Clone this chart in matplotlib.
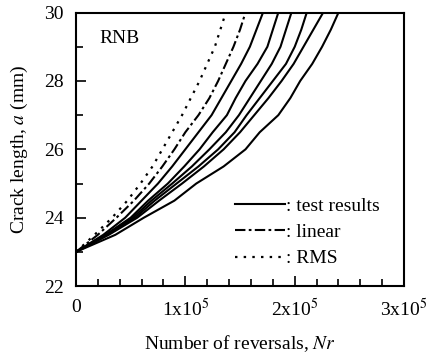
import matplotlib
matplotlib.use('Agg')
import matplotlib.pyplot as plt
from matplotlib.ticker import MultipleLocator, FixedLocator, FixedFormatter

plt.rcParams['font.family'] = ['Liberation Serif', 'DejaVu Serif']
plt.rcParams['mathtext.fontset'] = 'stix'

# crack length levels (mm) and reversals (x1e5)
crack_a = [23, 23.5, 24, 24.5, 25, 25.5, 26, 26.5, 27, 27.5, 28, 28.5, 29, 29.5, 30]

rms_N = [0, 0.17, 0.33, 0.47, 0.59, 0.70, 0.79, 0.88, 0.97, 1.05, 1.13, 1.20, 1.27, 1.32, 1.37]
linear_N = [0, 0.20, 0.37, 0.53, 0.67, 0.79, 0.90, 1.00, 1.12, 1.22, 1.30, 1.37, 1.44, 1.50, 1.55]

test1_N = [0, 0.25, 0.45, 0.60, 0.75, 0.88, 1.00, 1.12, 1.24, 1.33, 1.42, 1.51, 1.59, 1.65, 1.71]
test2_N = [0, 0.27, 0.50, 0.66, 0.84, 0.99, 1.13, 1.25, 1.38, 1.46, 1.55, 1.66, 1.75, 1.80, 1.85]
test3_N = [0, 0.28, 0.52, 0.69, 0.88, 1.06, 1.22, 1.37, 1.49, 1.59, 1.69, 1.79, 1.87, 1.92, 1.97]
test4_N = [0, 0.29, 0.54, 0.72, 0.92, 1.12, 1.30, 1.45, 1.56, 1.68, 1.80, 1.92, 2.00, 2.06, 2.11]
test5_N = [0, 0.30, 0.56, 0.76, 0.97, 1.17, 1.35, 1.50, 1.63, 1.76, 1.88, 1.99, 2.08, 2.17, 2.26]
test6_N = [0, 0.36, 0.62, 0.90, 1.10, 1.35, 1.55, 1.68, 1.85, 1.96, 2.05, 2.16, 2.25, 2.33, 2.40]
tests = [test1_N, test2_N, test3_N, test4_N, test5_N, test6_N]

xtick_vals = [0, 1e5, 2e5, 3e5]
xtick_labels = ['0', r'1x10$^5$', r'2x10$^5$', r'3x10$^5$']

fig = plt.figure(figsize=(4.29, 3.59), dpi=100)
ax = fig.add_axes([0.177, 0.203, 0.765, 0.762])

for i, n in enumerate(tests):
    ax.plot([v * 1e5 for v in n], crack_a, color='black', lw=1.5,
            label=': test results' if i == 0 else None)
ax.plot([v * 1e5 for v in linear_N], crack_a, color='black', lw=1.5,
        dashes=(5, 1.6, 1.3, 1.6), label=': linear')
ax.plot([v * 1e5 for v in rms_N], crack_a, color='black', lw=1.6,
        dashes=(1.1, 2.8), label=': RMS')

ax.set_xlim(0, 3e5)
ax.set_ylim(22, 30)
ax.xaxis.set_major_locator(FixedLocator(xtick_vals))
ax.xaxis.set_major_formatter(FixedFormatter(xtick_labels))
ax.xaxis.set_minor_locator(MultipleLocator(2e4))
ax.yaxis.set_major_locator(MultipleLocator(2))
ax.yaxis.set_minor_locator(MultipleLocator(1))
ax.tick_params(which='both', direction='in', labelsize=14, width=1.2)
ax.tick_params(which='major', length=7)
ax.tick_params(which='minor', length=5)
ax.tick_params(axis='x', pad=9)
ax.tick_params(axis='y', pad=9)
for s in ax.spines.values():
    s.set_linewidth(1.5)

ax.set_xlabel('Number of reversals, $Nr$', fontsize=14, labelpad=9)
ax.set_ylabel('Crack length, $a$ (mm)', fontsize=14, labelpad=10)
ax.text(0.07, 0.905, 'RNB', transform=ax.transAxes, fontsize=14, va='center')

ax.legend(loc='lower right', bbox_to_anchor=(0.95, 0.04), frameon=False,
          fontsize=14, handlelength=2.6, handletextpad=0.05, labelspacing=0.45,
          borderaxespad=0)

fig.savefig('out.png', dpi=100)
